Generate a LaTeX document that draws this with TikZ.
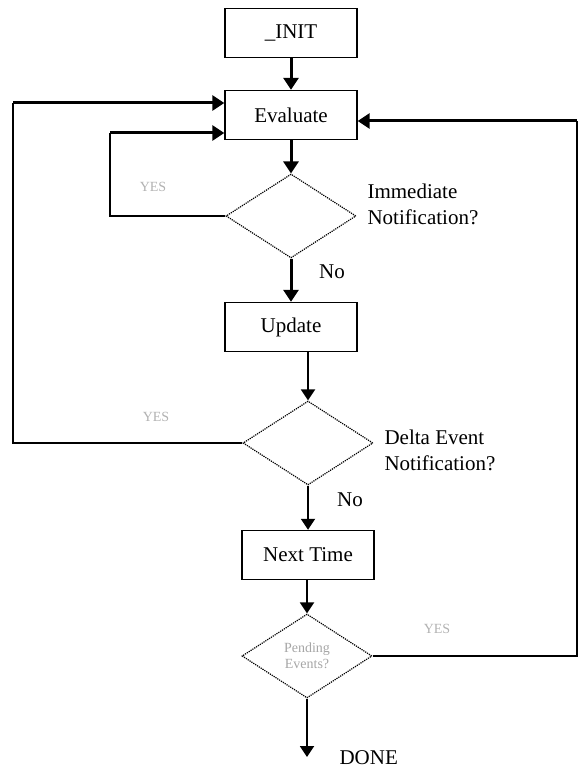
\documentclass[tikz,border=0pt]{standalone}
\usepackage{fontspec}
\setmainfont{Liberation Serif}
\usetikzlibrary{shapes.geometric,arrows.meta}

\begin{document}
\begin{tikzpicture}[x=1pt,y=-1pt,
  stepbox/.style={draw,line width=1.4pt,minimum width=132pt,minimum height=49pt,inner sep=0pt,font=\fontsize{21}{24}\selectfont},
  decision/.style={diamond,draw,densely dotted,line width=1.2pt,minimum width=130pt,minimum height=84pt,inner sep=0pt,align=center},
  flowfat/.style={line width=3pt,-{Triangle[width=15pt,length=12pt]}},
  flowthin/.style={line width=1.9pt,-{Triangle[width=14pt,length=11pt]}},
  loopline/.style={line width=1.9pt},
  note/.style={font=\fontsize{21}{26}\selectfont,align=left},
  yeslabel/.style={text=black!30,font=\fontsize{14}{16}\selectfont}]
\useasboundingbox (0,0) rectangle (580,770);
% boxes
\node[stepbox] (init) at (291,33) {\_INIT};
\node[stepbox] (eval) at (291,115) {Evaluate};
\node[stepbox] (update) at (291,327) {Update};
\node[stepbox] (next) at (308,555) {Next Time};
% decisions
\node[decision] (imm) at (291,216) {};
\node[decision] (delta) at (308,443) {};
\node[decision,text=black!35,font=\fontsize{14}{16}\selectfont] (pend) at (307,656) {Pending\\Events?};
% main flow
\draw[flowfat] (init) -- (eval);
\draw[flowfat] (eval) -- (imm);
\draw[flowfat] (imm) -- (update);
\draw[flowthin] (update.south -| delta.north) -- (delta);
\draw[flowthin] (delta) -- (next);
\draw[flowthin] (next.south -| pend.north) -- (pend);
\coordinate (done) at (307,757);
\draw[flowthin] (pend) -- (done);
% loops back to Evaluate
\coordinate (immturn) at (110,133);
\draw[loopline] (imm.west) -| (immturn);
\draw[flowfat] (immturn) -- (immturn -| eval.west);
\coordinate (deltaturn) at (13,103);
\draw[loopline] (delta.west) -| (deltaturn);
\draw[flowfat] (deltaturn) -- (deltaturn -| eval.west);
\coordinate (pendturn) at (577,121);
\draw[loopline] (pend.east) -| (pendturn);
\draw[flowfat] (pendturn) -- (pendturn -| eval.east);
% labels
\node[note,anchor=west] (immtext) at (364,204) {Immediate\\Notification?};
\node[note,anchor=west] (deltatext) at (381,450) {Delta Event\\Notification?};
\node[note] (no1) at (332,272) {No};
\node[note] (no2) at (350,500) {No};
\node[note,anchor=west] (donetext) at (336,758) {DONE};
\node[yeslabel] (yes1) at (153,187) {YES};
\node[yeslabel] (yes2) at (156,417) {YES};
\node[yeslabel] (yes3) at (437,629) {YES};
\end{tikzpicture}
\end{document}
